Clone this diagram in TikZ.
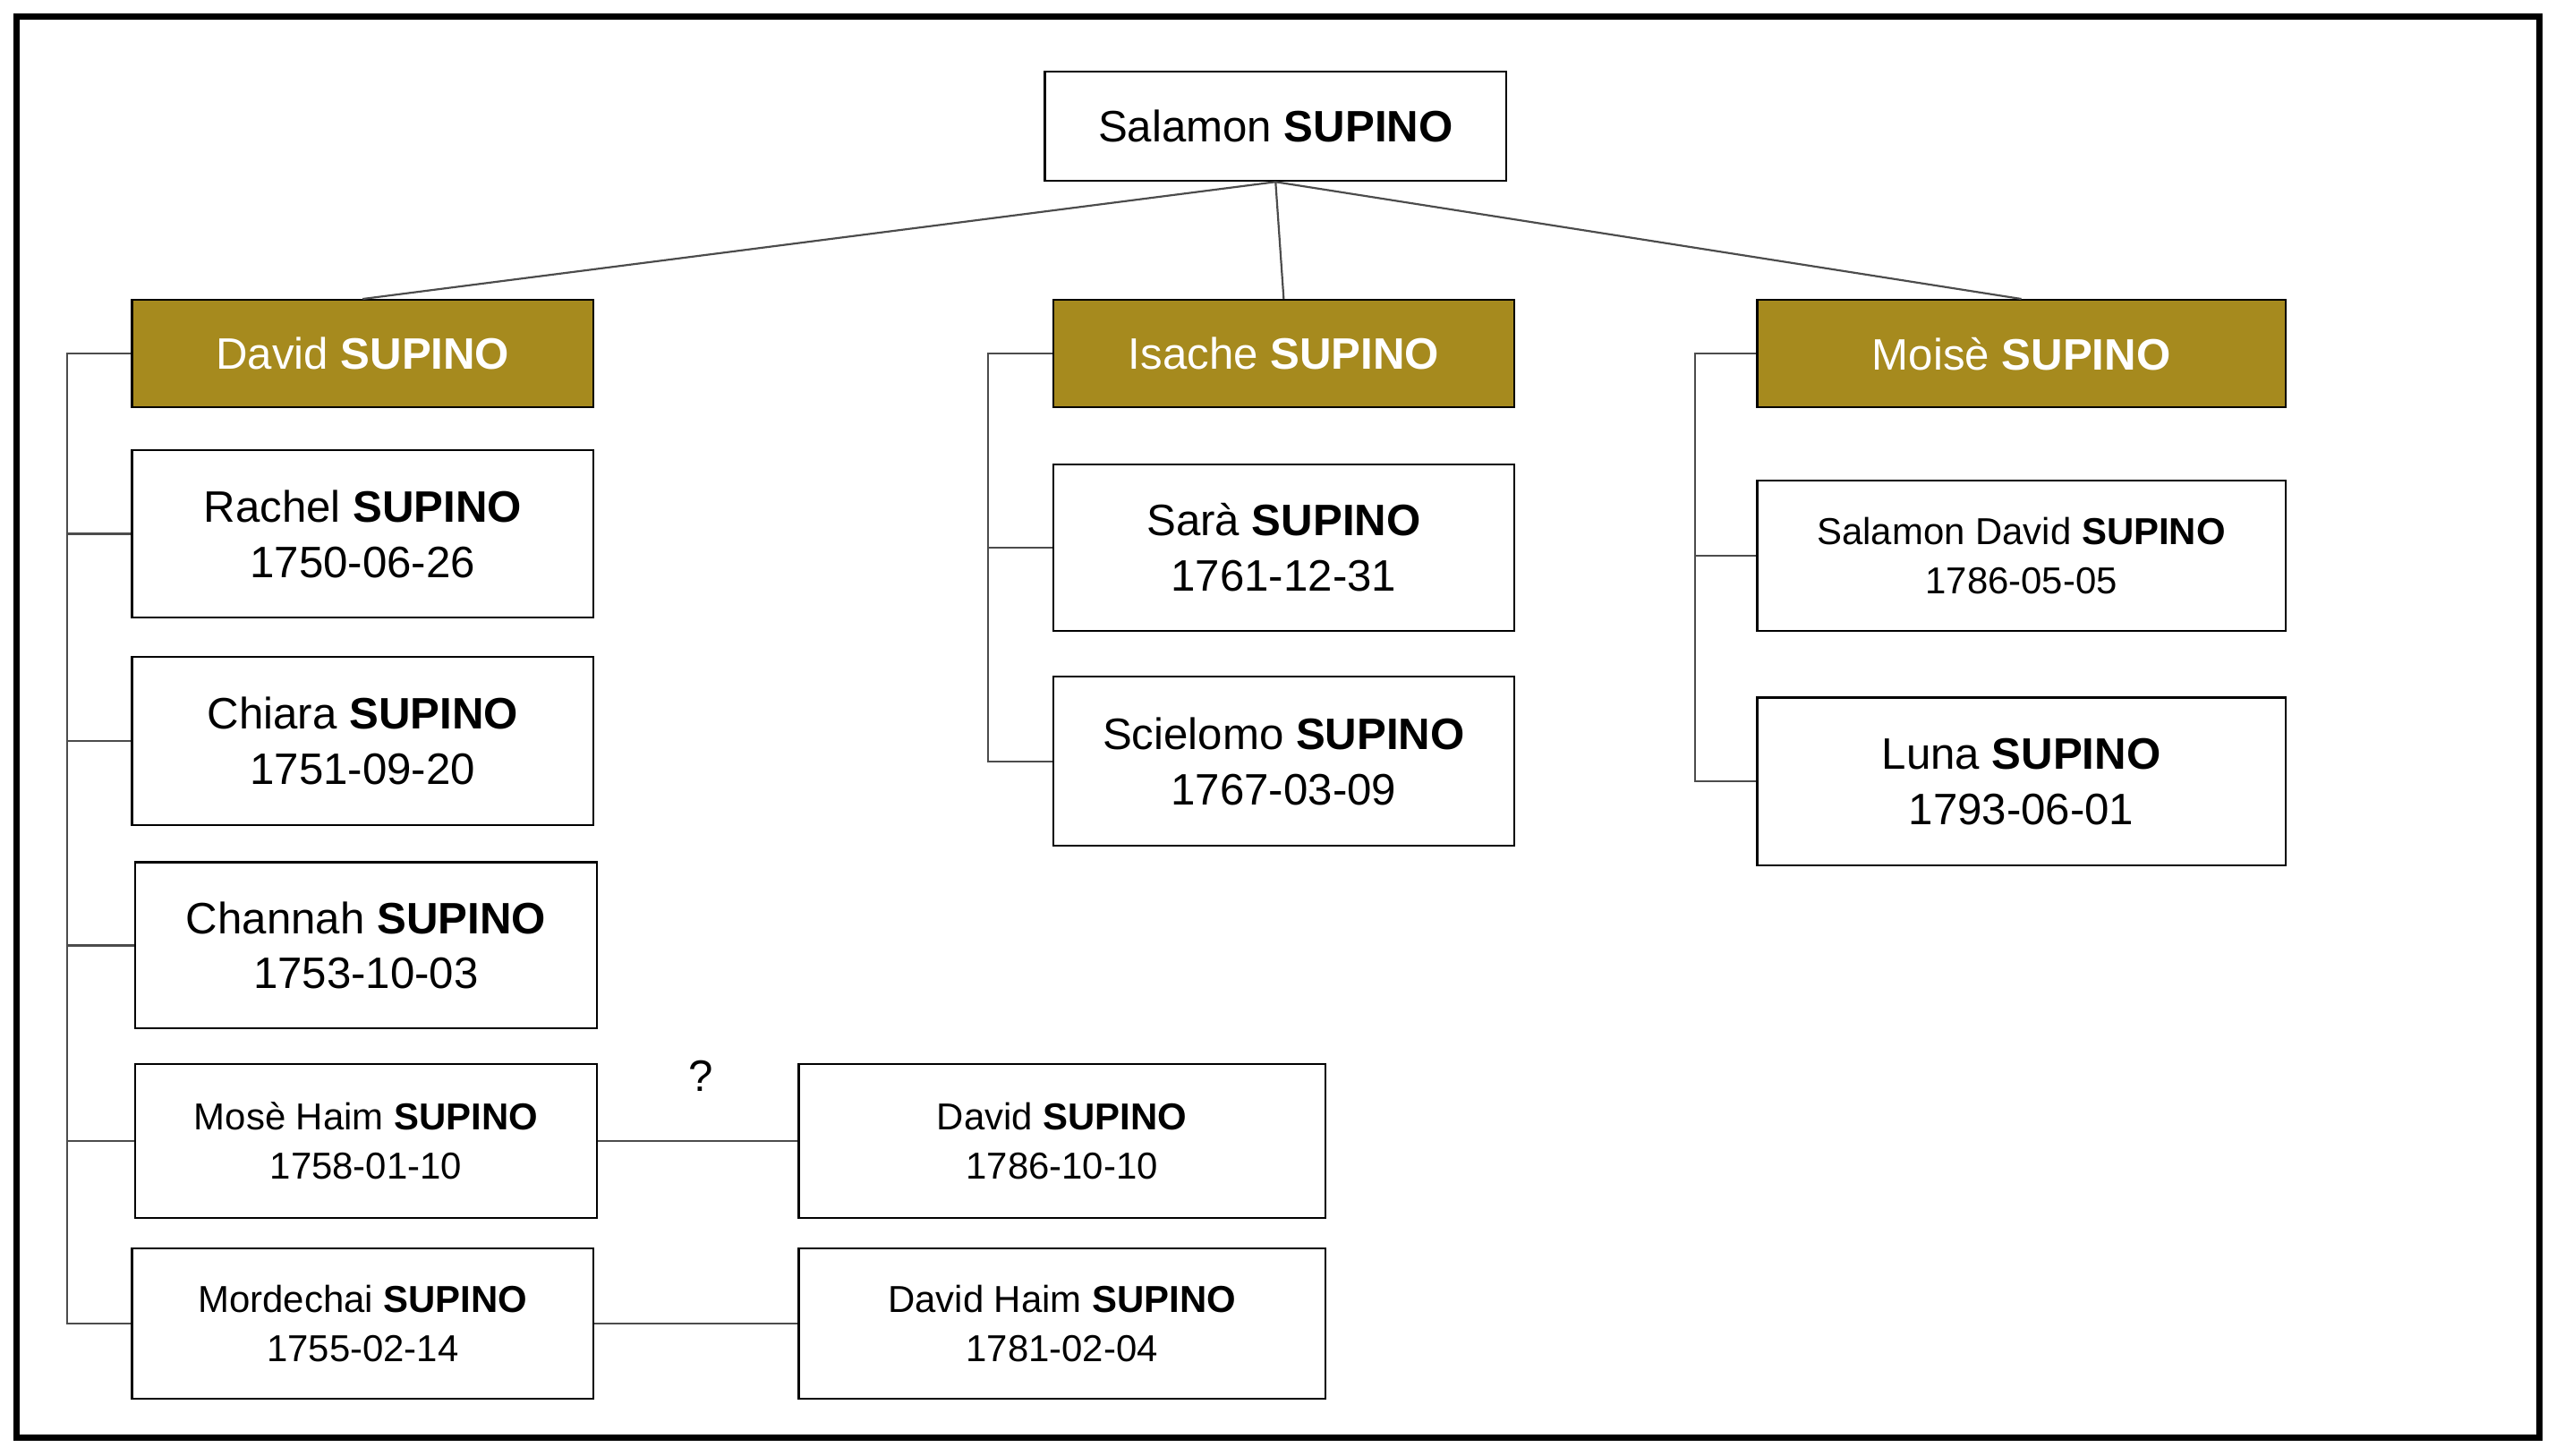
\documentclass[tikz,border=0pt]{standalone}
\usepackage{fontspec}
\setmainfont{Liberation Sans}
\definecolor{gold}{HTML}{A68A1E}
\newcommand\mybx[7]{\node[#1,minimum width={(#4-#2)*0.5pt},minimum height={(#5-#3)*0.5pt}] (#6) at ({(#2+#4)/2},{(#3+#5)/2}) {#7};}
\begin{document}
\begin{tikzpicture}[x=0.5pt,y=-0.5pt,
  box/.style={draw=black,line width=0.6pt,inner sep=0pt,align=center,font=\fontsize{13.5}{17}\selectfont},
  sbox/.style={box,font=\fontsize{11.5}{15}\selectfont},
  gbox/.style={box,fill=gold,text=white,font=\fontsize{13.5}{17}\selectfont},
  ln/.style={draw=black!70,line width=0.6pt}]
\useasboundingbox (0,0) rectangle (1568,893);
\draw[line width=2pt] (10,10) rectangle (1558,882);
\mybx{box}{641}{44}{924}{111}{sal}{Salamon \textbf{SUPINO}}
\mybx{gbox}{81}{184}{364}{250}{dav}{David \textbf{SUPINO}}
\mybx{gbox}{646}{184}{929}{250}{isa}{Isache \textbf{SUPINO}}
\mybx{gbox}{1078}{184}{1402}{250}{moi}{Moisè \textbf{SUPINO}}
\mybx{box}{81}{276}{364}{379}{rac}{Rachel \textbf{SUPINO}\\1750-06-26}
\mybx{box}{81}{403}{364}{506}{chi}{Chiara \textbf{SUPINO}\\1751-09-20}
\mybx{box}{83}{529}{366}{631}{cha}{Channah \textbf{SUPINO}\\1753-10-03}
\mybx{sbox}{83}{653}{366}{747}{mos}{Mosè Haim \textbf{SUPINO}\\1758-01-10}
\mybx{sbox}{81}{766}{364}{858}{mor}{Mordechai \textbf{SUPINO}\\1755-02-14}
\mybx{sbox}{490}{653}{813}{747}{dv2}{David \textbf{SUPINO}\\1786-10-10}
\mybx{sbox}{490}{766}{813}{858}{dh}{David Haim \textbf{SUPINO}\\1781-02-04}
\mybx{box}{646}{285}{929}{387}{sar}{Sarà \textbf{SUPINO}\\1761-12-31}
\mybx{box}{646}{415}{929}{519}{sci}{Scielomo \textbf{SUPINO}\\1767-03-09}
\mybx{sbox}{1078}{295}{1402}{387}{sd}{Salamon David \textbf{SUPINO}\\1786-05-05}
\mybx{box}{1078}{428}{1402}{531}{lun}{Luna \textbf{SUPINO}\\1793-06-01}
\draw[ln] (sal.south) -- (dav.north);
\draw[ln] (sal.south) -- (isa.north);
\draw[ln] (sal.south) -- (moi.north);
\draw[ln] (dav.west) -| (41,0 |- mor.west) -- (mor.west);
\foreach \n in {rac,chi,cha,mos} \draw[ln] (41,0 |- \n.west) -- (\n.west);
\draw[ln] (isa.west) -| (606,0 |- sci.west) -- (sci.west);
\draw[ln] (606,0 |- sar.west) -- (sar.west);
\draw[ln] (moi.west) -| (1040,0 |- lun.west) -- (lun.west);
\draw[ln] (1040,0 |- sd.west) -- (sd.west);
\draw[ln] (mos.east) -- (dv2.west);
\draw[ln] (mor.east) -- (dh.west);
\node[font=\fontsize{13.5}{17}\selectfont] (q) at (430,660) {?};
\end{tikzpicture}
\end{document}
